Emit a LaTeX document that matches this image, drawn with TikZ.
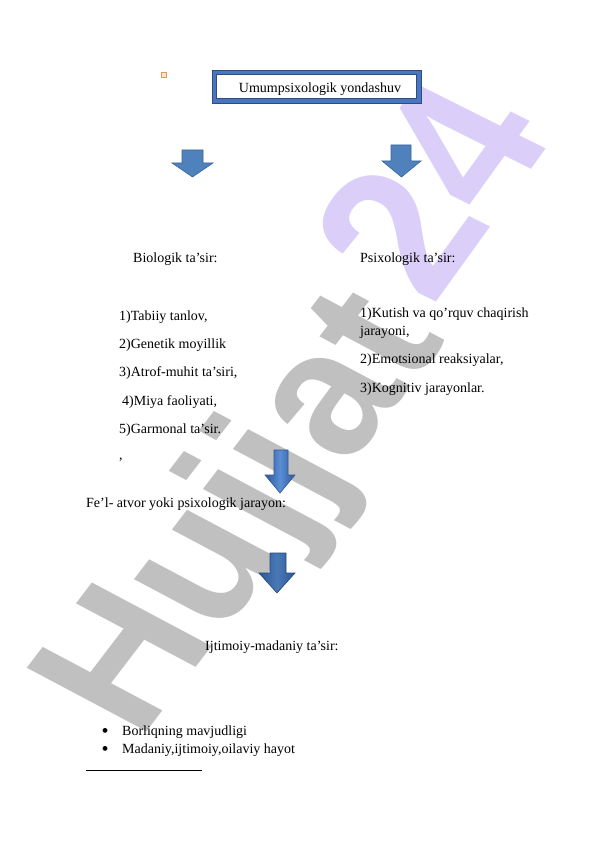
\documentclass[tikz,border=0pt]{standalone}
\usepackage{fontspec}
\setmainfont{Liberation Serif}
\newfontfamily\wmfont{Liberation Sans}
\definecolor{wmgray}{RGB}{192,192,192}
\definecolor{wmpurple}{RGB}{219,207,250}
\definecolor{boxblue}{RGB}{74,118,192}
\definecolor{boxedge}{RGB}{44,76,130}
\definecolor{arrowblue}{RGB}{79,129,189}
\definecolor{arrowedge}{RGB}{58,100,160}
\definecolor{darkarrow}{RGB}{46,88,150}
\definecolor{lightarrow}{RGB}{90,142,214}
\definecolor{sqorange}{RGB}{226,150,90}
\definecolor{sqfill}{RGB}{250,228,205}
\begin{document}
\begin{tikzpicture}[x=1pt,y=-1pt,
  txt/.style={anchor=base west, inner sep=0pt, font=\fontsize{14}{16}\selectfont},
  wmtext/.style={inner sep=0pt, transform shape},
  flatarrow/.style={fill=arrowblue, draw=arrowedge, line width=0.6pt, line join=miter},
  shadearrow/.style={left color=darkarrow, right color=darkarrow, middle color=lightarrow, draw=darkarrow, line width=0.6pt, line join=miter},
  deeparrow/.style={left color=darkarrow, right color=darkarrow, middle color=arrowblue!80!darkarrow, draw=darkarrow!80!black, line width=0.6pt, line join=miter}
]
\useasboundingbox (0,0) rectangle (596,842);
\fill[white] (0,0) rectangle (596,842);

% watermark (stretched horizontally)
\begin{scope}[xscale=1.2]
\node[wmtext, rotate=57.5, anchor=base west, text=wmgray, font=\wmfont\bfseries\fontsize{172}{172}\selectfont] (wm1) at (116,742) {Hujjat};
\node[wmtext, rotate=59, anchor=center, text=wmpurple, font=\wmfont\bfseries\fontsize{182}{182}\selectfont] (wm2) at (358,188) {24};
\end{scope}

% small square
\draw[sqorange, fill=sqfill, line width=0.8pt] (161.5,72.5) rectangle (166.5,77.5);

% title box
\draw[fill=boxblue, draw=boxedge, line width=0.8pt] (212,70) rectangle (421,103);
\draw[fill=white, draw=boxedge, line width=0.6pt] (216.5,74.5) rectangle (416.5,98.5);
\node[txt, anchor=base] (title) at (320,93) {Umumpsixologik yondashuv};

% arrows
\path[flatarrow] (182,150) -- (203,150) -- (203,163) -- (213,163) -- (192.5,177) -- (172,163) -- (182,163) -- cycle;
\path[flatarrow] (391,145) -- (411,145) -- (411,161) -- (421,161) -- (401.5,177) -- (382,161) -- (391,161) -- cycle;
\path[shadearrow] (274,450) -- (288,450) -- (288,475) -- (295,475) -- (280,493) -- (265,475) -- (274,475) -- cycle;
\path[deeparrow] (270,553) -- (286,553) -- (286,573) -- (295,573) -- (277,593) -- (259,573) -- (270,573) -- cycle;

% headings
\node[txt] (bio) at (133,262) {Biologik ta’sir:};
\node[txt] (psi) at (360,262) {Psixologik ta’sir:};

% left list
\node[txt] (b1) at (119,320) {1)Tabiiy tanlov,};
\node[txt] (b2) at (119,348) {2)Genetik moyillik};
\node[txt] (b3) at (119,376) {3)Atrof-muhit ta’siri,};
\node[txt] (b4) at (122,405) {4)Miya faoliyati,};
\node[txt] (b5) at (119,433) {5)Garmonal ta’sir.};
\node[txt] (b6) at (119,459) {,};

% right list
\node[txt, align=left, font=\fontsize{14}{18}\selectfont] (p1) at (360,335) {1)Kutish va qo’rquv chaqirish\\jarayoni,};
\node[txt] (p2) at (360,363) {2)Emotsional reaksiyalar,};
\node[txt] (p3) at (360,392) {3)Kognitiv jarayonlar.};

% middle
\node[txt] (fel) at (86,507) {Fe’l- atvor yoki psixologik jarayon:};
\node[txt] (ijt) at (205,650) {Ijtimoiy-madaniy ta’sir:};

% bullets
\node[txt, anchor=base, font=\fontsize{20}{20}\selectfont] (d1) at (105,737) {•};
\node[txt] (t1) at (122,735) {Borliqning mavjudligi};
\node[txt, anchor=base, font=\fontsize{20}{20}\selectfont] (d2) at (105,755) {•};
\node[txt] (t2) at (122,753) {Madaniy,ijtimoiy,oilaviy hayot};

% footnote rule
\draw[line width=0.5pt] (86,770) -- (202,770);
\end{tikzpicture}
\end{document}
